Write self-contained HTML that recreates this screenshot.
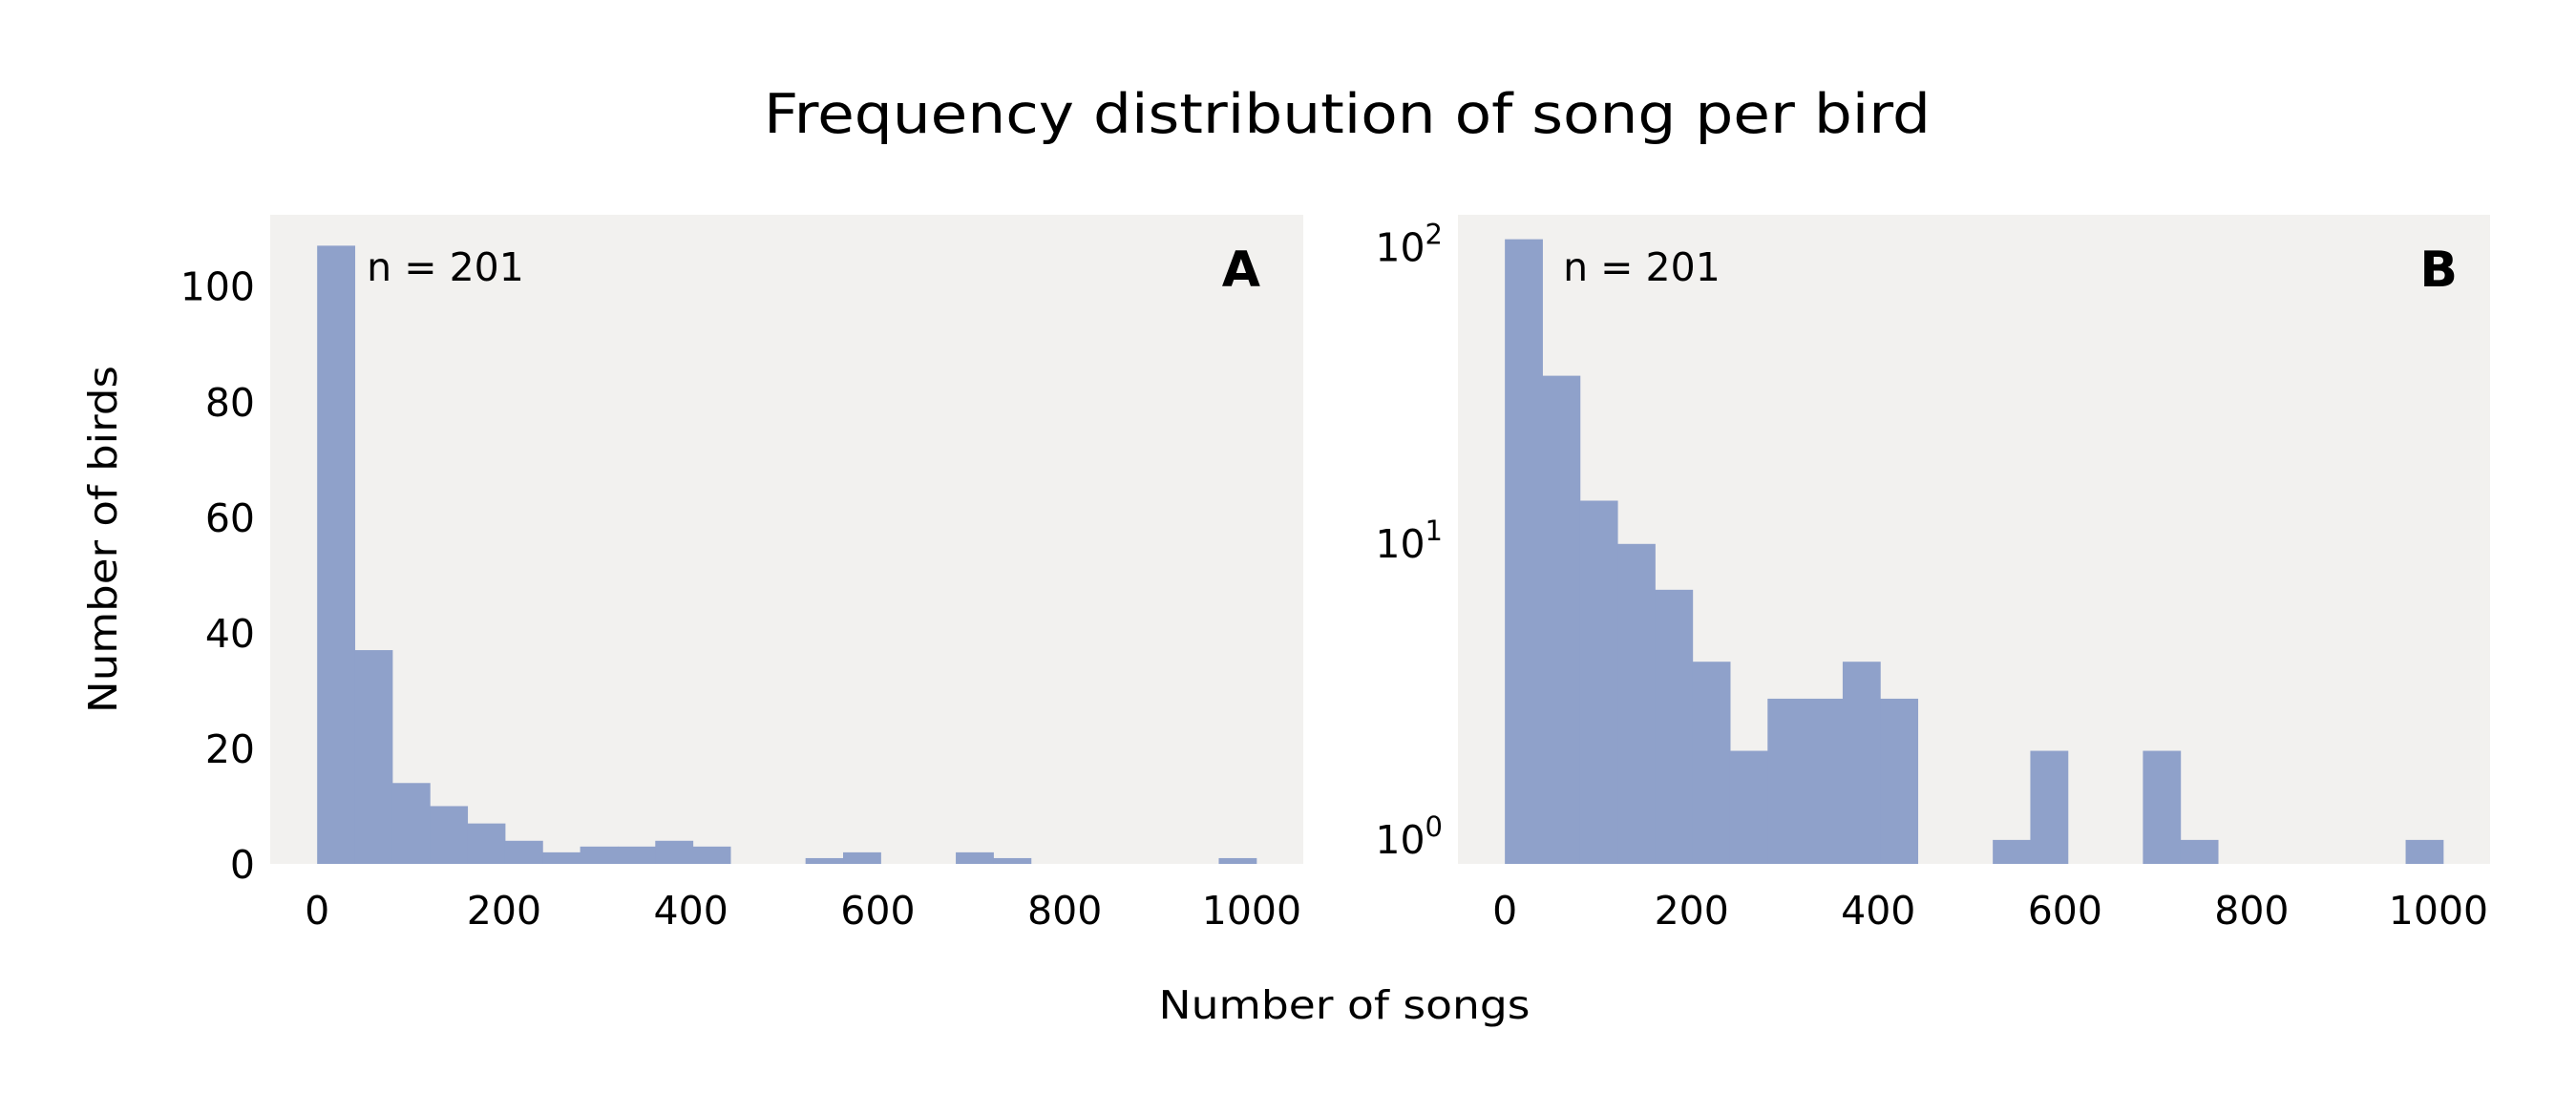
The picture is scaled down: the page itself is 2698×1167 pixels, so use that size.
<!DOCTYPE html>
<html><head><meta charset="utf-8"><style>
html,body{margin:0;padding:0;background:#fff;}
svg{display:block;font-family:"DejaVu Sans","Liberation Sans",sans-serif;}
</style></head><body>
<svg id="chart" width="2698" height="1167" viewBox="0 0 2698 1167" xmlns="http://www.w3.org/2000/svg">
<text x="1411" y="139" font-size="57" text-anchor="middle" textLength="1222" lengthAdjust="spacingAndGlyphs">Frequency distribution of song per bird</text>
<text x="1408" y="1067" font-size="41" text-anchor="middle" textLength="389" lengthAdjust="spacingAndGlyphs">Number of songs</text>
<text x="0" y="0" font-size="41" text-anchor="middle" textLength="364" lengthAdjust="spacingAndGlyphs" transform="translate(122,565) rotate(-90)">Number of birds</text>
<g id="panelA"></g>
<g id="panelB"></g>
</svg>
<script>
const binStart = 0;
const binWidth = 40.2;
const counts = [107,37,14,10,7,4,2,3,3,4,3,0,0,1,2,0,0,2,1,0,0,0,0,0,1];
const xTicks = [0,200,400,600,800,1000];
const yTicksLinear = [0,20,40,60,80,100];
const yTicksLog = [0,1,2];
const sampleLabel = "n = 201";

const NS = "http://www.w3.org/2000/svg";
function mk(tag, attrs, parent){const e=document.createElementNS(NS,tag);for(const k in attrs)e.setAttribute(k,attrs[k]);parent.appendChild(e);return e;}

function drawPanel(g, left, right, logScale, letter){
  const top=225, bottom=905;
  const xmin=-50.25, xmax=1055.25;
  const X=v=>left+(v-xmin)/(xmax-xmin)*(right-left);
  let Y;
  if(logScale){const lo=-0.081, hi=2.112;Y=v=>bottom-(Math.log10(v)-lo)/(hi-lo)*(bottom-top);}
  else{const hi=Math.max(...counts)*1.05;Y=v=>bottom-v/hi*(bottom-top);}
  const bg=mk('rect',{x:left,y:top,width:right-left,height:bottom-top,fill:'#f2f1ef'},g);
  
  
  counts.forEach((c,i)=>{
    if(c<=0)return;
    const x0=X(binStart+i*binWidth), x1=X(binStart+(i+1)*binWidth);
    const r=mk('rect',{x:x0,y:Y(c),width:x1-x0+0.5,height:bottom-Y(c),fill:'#8fa1ca'},g);
    
    
  });
  xTicks.forEach(t=>{
    const tx=mk('text',{x:X(t),y:968,'font-size':41,'text-anchor':'middle'},g);
    tx.textContent=t;
    
    
  });
  if(logScale){
    yTicksLog.forEach(p=>{
      const y=Y(Math.pow(10,p));
      const tx=mk('text',{x:left-16,y:y+14,'font-size':41,'text-anchor':'end'},g);
      const a=mk('tspan',{},tx);a.textContent='10';
      const b=mk('tspan',{'font-size':29,dy:-18},tx);b.textContent=p;
      
      
    });
  } else {
    yTicksLinear.forEach(t=>{
      const tx=mk('text',{x:left-16,y:Y(t)+15,'font-size':41,'text-anchor':'end'},g);
      tx.textContent=t;
      
      
    });
  }
  const n=mk('text',{x:X(0)+(logScale?61:52),y:294,'font-size':41},g);
  n.textContent=sampleLabel;
  
  
  const L=mk('text',{x:right-(logScale?34:45),y:300,'font-size':52,'font-weight':'bold','text-anchor':'end'},g);
  L.textContent=letter;
  
  
}
drawPanel(document.getElementById('panelA'),283,1365,false,'A');
drawPanel(document.getElementById('panelB'),1527,2608,true,'B');
</script>
</body></html>
